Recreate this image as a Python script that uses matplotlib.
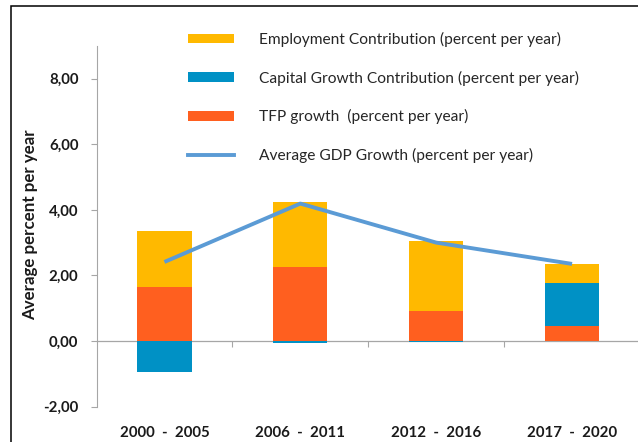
import matplotlib
matplotlib.use("Agg")
import matplotlib.pyplot as plt
import numpy as np
from matplotlib.patches import Rectangle, Patch
from matplotlib.lines import Line2D
from matplotlib.ticker import FuncFormatter, FixedLocator

plt.rcParams['font.family'] = ['Lato', 'DejaVu Sans']

# Data
periods = ["2000  -  2005", "2006  -  2011", "2012  -  2016", "2017  -  2020"]
tfp_growth = [1.65, 2.26, 0.92, 0.47]
capital_contrib = [-0.95, -0.05, -0.04, 1.29]
employment_contrib = [1.71, 1.98, 2.14, 0.60]
gdp_growth = [2.41, 4.19, 3.00, 2.35]

c_emp = "#FFB900"
c_cap = "#0091C5"
c_tfp = "#FF5F1F"
c_gdp = "#5B9BD5"
c_axis = "#A6A6A6"
c_text = "#1A1A1A"

W, H = 638, 442
fig = plt.figure(figsize=(W / 100, H / 100), dpi=100)

# Plot area in pixel terms
left_px, right_px, top_px, bottom_px = 96.5, 640.0, 45.8, 406.6
ax = fig.add_axes([left_px / W, 1 - bottom_px / H,
                   (right_px - left_px) / W, (bottom_px - top_px) / H])

x = np.arange(len(periods))
width = 0.40

tfp = np.array(tfp_growth)
cap = np.array(capital_contrib)
emp = np.array(employment_contrib)

# Stack positives above zero and negatives below zero
pos_base = np.zeros(len(x))
neg_base = np.zeros(len(x))
for vals, col in [(tfp, c_tfp), (cap, c_cap), (emp, c_emp)]:
    bottoms = np.where(vals >= 0, pos_base, neg_base)
    ax.bar(x, vals, width, bottom=bottoms, color=col, linewidth=0, zorder=2)
    pos_base = pos_base + np.where(vals >= 0, vals, 0)
    neg_base = neg_base + np.where(vals < 0, vals, 0)

ax.plot(x, gdp_growth, color=c_gdp, lw=2.8, solid_capstyle='butt',
        solid_joinstyle='round', zorder=3)

ax.set_xlim(-0.5, 3.5)
ax.set_ylim(-2, 9)

# y axis
ax.yaxis.set_major_locator(FixedLocator([-2, 0, 2, 4, 6, 8]))
ax.yaxis.set_major_formatter(FuncFormatter(lambda v, p: f"{v:.2f}".replace('.', ',')))
ax.tick_params(axis='y', direction='out', length=4, width=0.8, color=c_axis,
               pad=9, labelsize=10.8, labelcolor=c_text)
for lab in ax.get_yticklabels():
    lab.set_fontweight('bold')

for s in ['top', 'right', 'bottom']:
    ax.spines[s].set_visible(False)
ax.spines['left'].set_color(c_axis)
ax.spines['left'].set_linewidth(0.8)

# category labels at the bottom of the plot area
ax.set_xticks(x)
ax.set_xticklabels(periods, fontweight='bold', fontsize=10.8, color=c_text)
ax.tick_params(axis='x', length=0, pad=14)

# zero line with category separators
zero_frac = (0 - (-2)) / (9 - (-2))
sec = ax.secondary_xaxis(zero_frac)
sec.set_xticks([0.5, 1.5, 2.5])
sec.tick_params(axis='x', direction='out', length=4, width=0.8, color=c_axis,
                labelbottom=False, labeltop=False, bottom=True, top=False)
sec.spines['bottom'].set_color(c_axis)
sec.spines['bottom'].set_linewidth(0.9)
sec.spines['top'].set_visible(False)

ax.set_ylabel("Average percent per year", fontweight='bold', fontsize=12.2,
              color=c_text)
ax.yaxis.set_label_coords(-(left_px - 38) / (right_px - left_px), 0.505)

# Legend
handles = [
    Patch(facecolor=c_emp, edgecolor='none'),
    Patch(facecolor=c_cap, edgecolor='none'),
    Patch(facecolor=c_tfp, edgecolor='none'),
    Line2D([0], [0], color=c_gdp, lw=2.8),
]
labels = [
    "Employment Contribution (percent per year)",
    "Capital Growth Contribution (percent per year)",
    "TFP growth  (percent per year)",
    "Average GDP Growth (percent per year)",
]
fs = 11.2
fs_px = fs * 100 / 72
fig.legend(handles, labels, loc='upper left',
           bbox_to_anchor=(188.3 / W, 1 - 32 / H), frameon=False,
           fontsize=fs, handlelength=46 / fs_px, handleheight=9 / fs_px,
           handletextpad=(259 - 234.3) / fs_px, labelspacing=1.52,
           borderpad=0, borderaxespad=0, labelcolor='#262626')

# Outer frame
fig.add_artist(Rectangle((11 / W, -0.1), 1.2, 1 - 6.3 / H + 0.1,
                         transform=fig.transFigure, fill=False,
                         edgecolor='black', linewidth=1.1, clip_on=False))

fig.savefig("out.png", dpi=100)
